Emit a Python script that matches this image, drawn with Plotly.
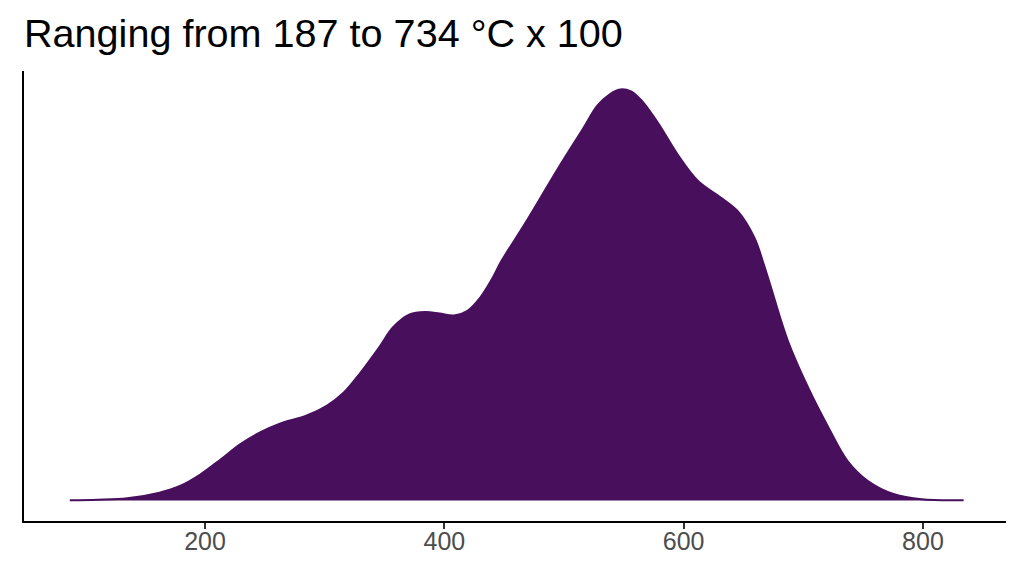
import plotly.graph_objects as go

# Temperature values (°C x 100) and relative density heights
temperature = [87, 110, 135, 162, 179, 196, 213, 229, 246, 263, 285, 302, 316, 330,
               346, 357, 371, 384, 396, 408, 419, 430, 441, 447, 469, 494, 516, 528,
               538, 547, 556, 564, 572, 580, 595, 612, 631, 645, 659, 667, 673, 687,
               704, 721, 737, 754, 776, 799, 834]
density = [0.3, 0.8, 2.2, 7.8, 14.5, 26, 41, 56, 68, 77, 85, 95, 108, 128,
           154, 173, 186, 188.5, 187, 185, 189.5, 203, 224, 238, 280, 330, 372, 395,
           406, 411, 409, 401, 389, 375, 346, 319.5, 303, 289.5, 263, 236, 213, 160,
           113, 73, 39.5, 19.5, 6.2, 1.2, 0.3]
tick_vals = [200, 400, 600, 800]
title_text = "Ranging from 187 to 734 °C x 100"

fill_color = "#480F5D"

fig = go.Figure()
fig.add_trace(go.Scatter(
    x=temperature, y=density, mode="lines",
    line=dict(color=fill_color, width=2, shape="spline", smoothing=1.0),
    fill="tozeroy", fillcolor=fill_color, hoverinfo="skip", showlegend=False,
))

fig.update_layout(
    width=1024, height=576,
    margin=dict(l=16, r=26, t=63, b=63),
    paper_bgcolor="white", plot_bgcolor="white",
    font=dict(family="Liberation Sans, Arial, sans-serif"),
    title=dict(text=title_text, x=16/1024, xanchor="left", xref="container",
               y=1 - 11/576, yanchor="top", yref="container",
               font=dict(size=39.6, color="black", family="Liberation Sans, Arial, sans-serif")),
)
fig.update_xaxes(
    range=[48.7, 869.4], tickvals=tick_vals, ticktext=[str(v) for v in tick_vals],
    showgrid=False, zeroline=False, showline=True, linecolor="black", linewidth=2,
    ticks="outside", ticklen=6, tickwidth=1.5, tickcolor="#333333",
    tickfont=dict(size=25, color="#4D4D4D"), ticklabelstandoff=-9,
)
fig.update_yaxes(
    range=[-20.5, 429.5], showgrid=False, zeroline=False, showticklabels=False,
    showline=True, linecolor="black", linewidth=2, ticks="",
)

fig.write_html("out.html")
